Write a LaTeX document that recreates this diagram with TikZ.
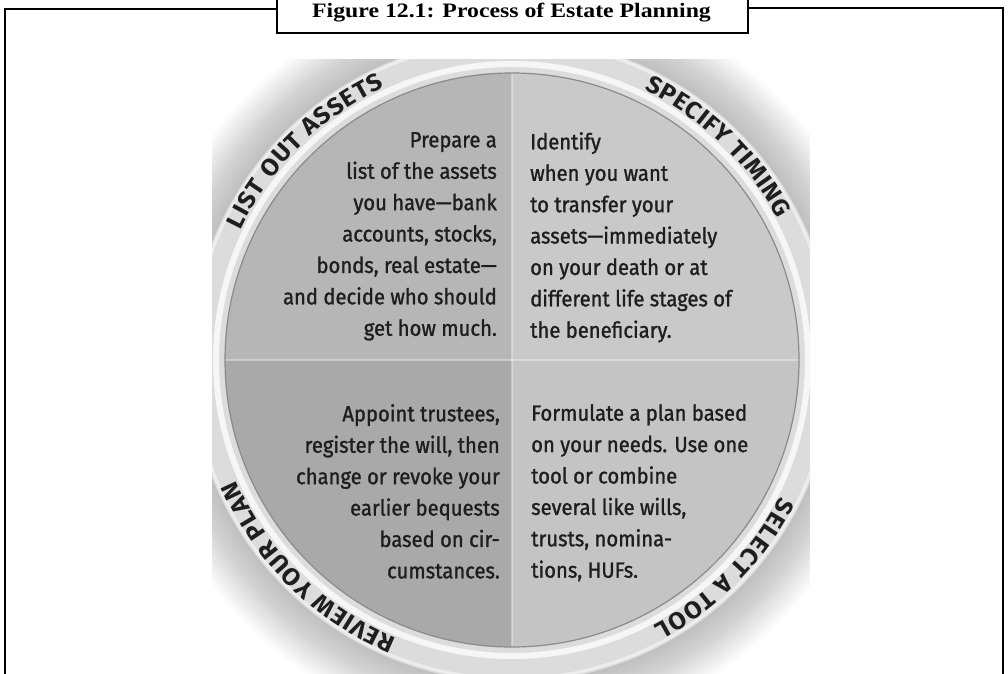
\documentclass[tikz,border=0pt]{standalone}
\usepackage{fontspec}
\setmainfont{Fira Sans}
\newfontfamily\bodyfont{Fira Sans}[FakeStretch=0.92, FakeBold=1.2]
\newfontfamily\capfont{Fira Sans}[FakeStretch=1.05]
\newfontfamily\titlefont{Liberation Serif}[FakeStretch=1.16]
\usetikzlibrary{decorations.text}
\definecolor{qtl}{HTML}{B6B6B6}
\definecolor{qtr}{HTML}{C9C9C9}
\definecolor{qbl}{HTML}{A9A9A9}
\definecolor{qbr}{HTML}{C4C4C4}
\definecolor{ringc}{HTML}{DCDCDC}
\definecolor{rimc}{HTML}{8A8A8A}
\definecolor{inkc}{HTML}{1E1E1E}
\newcommand\capstyle{\capfont\bfseries\fontsize{24}{24}\selectfont\color{inkc}}
\tikzset{
  frameline/.style={line width=2.4pt, black},
  bodytext/.style={inner sep=0pt, text=inkc, font=\bodyfont\fontsize{22}{31.4}\selectfont},
  captext/.style={decorate, decoration={text along path, text align=fit to path, text={#1}}},
}
\begin{document}
\begin{tikzpicture}[x=1pt,y=1pt]
\useasboundingbox (0,0) rectangle (1008,673);
\coordinate (C) at (512,313);
% badge picture
\begin{scope}
  \clip (212,0) rectangle (810,613);
  \foreach \k in {1,...,24} \fill[black,opacity=0.013] (C) circle[radius=322+2.2*\k];
  \fill[ringc] (C) circle[radius=322];
  \draw[white, opacity=0.75, line width=6pt] (C) circle[radius=296];
  \draw[white, opacity=0.5, line width=3pt] (C) circle[radius=319];
  \fill[qtl] (C) -- ++(90:287) arc[start angle=90, end angle=180, radius=287] -- cycle;
  \fill[qtr] (C) -- ++(0:287) arc[start angle=0, end angle=90, radius=287] -- cycle;
  \fill[qbl] (C) -- ++(180:287) arc[start angle=180, end angle=270, radius=287] -- cycle;
  \fill[qbr] (C) -- ++(270:287) arc[start angle=270, end angle=360, radius=287] -- cycle;
  \draw[white, opacity=0.35, line width=2pt] ([yshift=287]C) -- ([yshift=-287]C);
  \draw[white, opacity=0.35, line width=2pt] ([xshift=-287]C) -- ([xshift=287]C);
  \draw[rimc, line width=1.2pt] (C) circle[radius=287];
  \path[captext={|\capstyle|LIST OUT ASSETS}] ([shift={(154.5:301)}]C) arc[start angle=154.5, end angle=115, radius=301];
  \path[captext={|\capstyle|SPECIFY TIMING}] ([shift={(64:301)}]C) arc[start angle=64, end angle=28, radius=301];
  \path[captext={|\capstyle|SELECT A TOOL}] ([shift={(-27:301)}]C) arc[start angle=-27, end angle=-62, radius=301];
  \path[captext={|\capstyle|REVIEW YOUR PLAN}] ([shift={(247.5:301)}]C) arc[start angle=247.5, end angle=203.5, radius=301];
\end{scope}
% quadrant texts
\node[bodytext, align=right, anchor=north east] (tl) at (497,541)
  {Prepare a\\list of the assets\\you have—bank\\accounts, stocks,\\bonds, real estate—\\and decide who should\\get how much.};
\node[bodytext, align=left, anchor=north west] (tr) at (530,541)
  {Identify\\when you want\\to transfer your\\assets—immediately\\on your death or at\\different life stages of\\the beneficiary.};
\node[bodytext, align=right, anchor=north east] (bl) at (500,269)
  {Appoint trustees,\\register the will, then\\change or revoke your\\earlier bequests\\based on cir-\\cumstances.};
\node[bodytext, align=left, anchor=north west] (br) at (531,269)
  {Formulate a plan based\\on your needs. Use one\\tool or combine\\several like wills,\\trusts, nomina-\\tions, HUFs.};
% frame and title
\draw[frameline] (5,-5) -- (5,664) -- (277,664);
\draw[frameline] (748,665) -- (1003,665) -- (1003,-5);
\draw[frameline] (277,680) -- (277,640) -- (748,640) -- (748,680);
\node[anchor=base, inner sep=0pt, font=\titlefont\bfseries\fontsize{20.5}{21}\selectfont] (title) at (511.5,655.5) {Figure 12.1: Process of Estate Planning};
\end{tikzpicture}
\end{document}
